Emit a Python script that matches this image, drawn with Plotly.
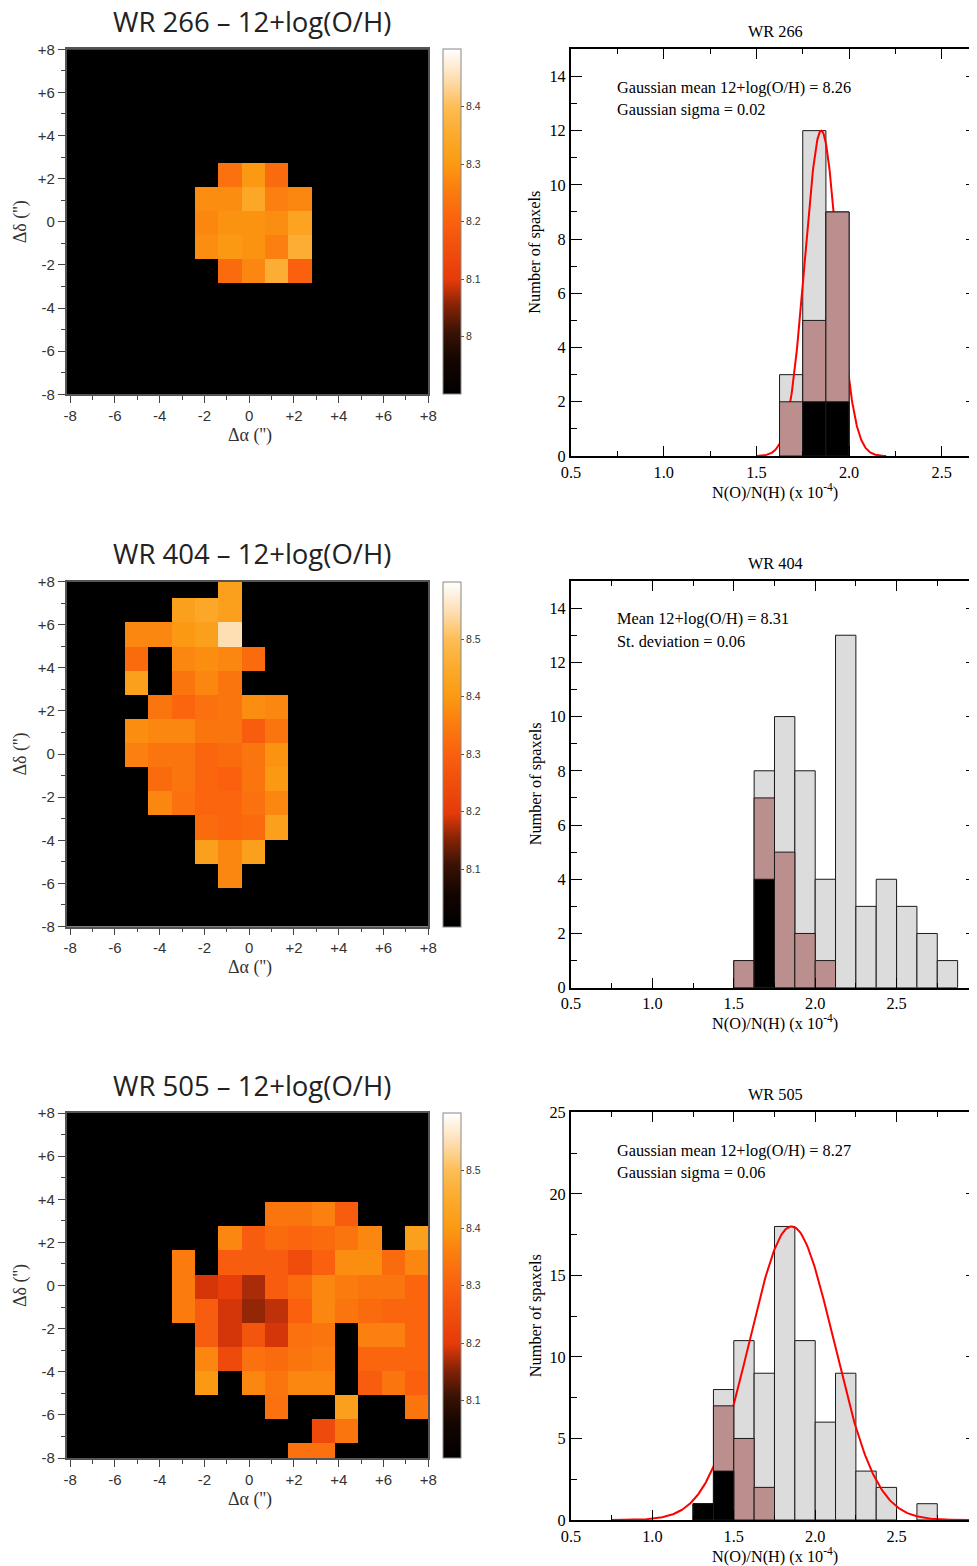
import numpy as np
import plotly.graph_objects as go

# The page body keeps an 8 px margin, so the figure is sized to fill the
# rest of the 977x1566 window and reference pixel positions are shifted.
OFF = 8
W, H = 977 - OFF, 1566 - OFF


def fx(p):
    return (p - OFF) / W


def fy(p):
    return 1 - (p - OFF) / H


SERIF = "Liberation Serif, Times New Roman, serif"
SANS = "Liberation Sans, Arial, sans-serif"
TFONT = "Open Sans, sans-serif"
SZ = 16.3

# ---------------- map data (12+log(O/H) per spaxel) ----------------
NCOL, NROW = 15, 16
COL_LEFT, COL_W = -7.625, 1.043
ROW_TOP, ROW_H = 8.34, 1.12

WR266_ROWS = [5, 6, 7, 8, 9]
WR266_START = [6, 5, 5, 5, 6]
WR266_VALS = [
    [8.23, 8.30, 8.22],
    [8.28, 8.28, 8.34, 8.26, 8.27],
    [8.27, 8.29, 8.29, 8.28, 8.33],
    [8.28, 8.30, 8.29, 8.26, 8.36],
    [8.22, 8.27, 8.36, 8.20],
]

WR404_ROWS = [0, 1, 2, 3, 4, 5, 6, 7, 8, 9, 10, 11, 12]
WR404_START = [6, 4, 2, 2, 2, 3, 2, 2, 3, 3, 5, 5, 6]
WR404_VALS = [
    [8.42],
    [8.42, 8.44, 8.42],
    [8.37, 8.37, 8.40, 8.42, 8.55],
    [8.32, None, 8.37, 8.38, 8.37, 8.32],
    [8.42, None, 8.34, 8.37, 8.34],
    [8.34, 8.31, 8.33, 8.34, 8.38, 8.37],
    [8.38, 8.37, 8.37, 8.34, 8.34, 8.29, 8.34],
    [8.36, 8.34, 8.34, 8.31, 8.32, 8.34, 8.39],
    [8.32, 8.34, 8.31, 8.30, 8.34, 8.40],
    [8.37, 8.33, 8.31, 8.31, 8.33, 8.37],
    [8.32, 8.31, 8.32, 8.42],
    [8.42, 8.37, 8.42],
    [8.37],
]

WR505_ROWS = [4, 5, 6, 7, 8, 9, 10, 11, 12, 13, 14]
WR505_START = [8, 6, 4, 4, 4, 5, 5, 5, 8, 10, 9]
WR505_VALS = [
    [8.34, 8.34, 8.36, 8.29],
    [8.37, 8.29, 8.32, 8.31, 8.32, 8.34, 8.37, None, 8.42],
    [8.35, None, 8.29, 8.29, 8.29, 8.25, 8.30, 8.38, 8.38, 8.32, 8.37],
    [8.35, 8.19, 8.21, 8.17, 8.29, 8.32, 8.37, 8.35, 8.34, 8.34, 8.31],
    [8.35, 8.29, 8.19, 8.16, 8.18, 8.30, 8.37, 8.34, 8.32, 8.31, 8.31],
    [8.29, 8.19, 8.27, 8.19, 8.33, 8.34, None, 8.36, 8.36, 8.31],
    [8.37, 8.24, 8.33, 8.32, 8.34, 8.35, None, 8.31, 8.31, 8.31],
    [8.40, None, 8.37, 8.34, 8.37, 8.37, None, 8.29, 8.34, 8.30],
    [8.33, None, None, 8.42, None, None, 8.34],
    [8.24, 8.34],
    [8.33, 8.33],
]

MAP_TITLES = ["WR 266 \u2013 12+log(O/H)", "WR 404 \u2013 12+log(O/H)", "WR 505 \u2013 12+log(O/H)"]
MAP_ZMIN = [7.9, 8.0, 8.0]
MAP_ZMAX = [8.5, 8.6, 8.6]
CBAR_TICKS = [[8.0, 8.1, 8.2, 8.3, 8.4], [8.1, 8.2, 8.3, 8.4, 8.5], [8.1, 8.2, 8.3, 8.4, 8.5]]
CBAR_TEXT = [["8", "8.1", "8.2", "8.3", "8.4"], ["8.1", "8.2", "8.3", "8.4", "8.5"], ["8.1", "8.2", "8.3", "8.4", "8.5"]]
MAP_TICKVALS = [-8, -6, -4, -2, 0, 2, 4, 6, 8]
MAP_TICKTEXT = ["-8", "-6", "-4", "-2", "0", "+2", "+4", "+6", "+8"]

# ---------------- histogram data ----------------
BIN_W = 0.125
HIST_TITLES = ["WR 266", "WR 404", "WR 505"]
HIST_LEFT = [1.625, 1.5, 1.25]
TOTAL = [
    [3, 12, 9],
    [1, 8, 10, 8, 4, 13, 3, 4, 3, 2, 1],
    [1, 8, 11, 9, 18, 11, 6, 9, 3, 2, 0, 1],
]
BROWN = [
    [2, 5, 9],
    [1, 7, 5, 2, 1, 0, 0, 0, 0, 0, 0],
    [1, 7, 5, 2, 0, 0, 0, 0, 0, 0, 0, 0],
]
BLACK = [
    [0, 2, 2],
    [0, 4, 0, 0, 0, 0, 0, 0, 0, 0, 0],
    [1, 3, 0, 0, 0, 0, 0, 0, 0, 0, 0, 0],
]
HIST_XMAX = [2.69, 2.994, 2.994]
HIST_YMAX = [15, 15, 25]
HIST_YDTICK = [2, 2, 5]
HIST_TEXT1 = ["Gaussian mean 12+log(O/H) = 8.26", "Mean 12+log(O/H) = 8.31", "Gaussian mean 12+log(O/H) = 8.27"]
HIST_TEXT2 = ["Gaussian sigma = 0.02", "St. deviation = 0.06", "Gaussian sigma = 0.06"]

# Gaussian fits (amplitude, centre, sigma, x-extent); None = no fit drawn
GAUSS = [
    (12.0, 1.85, 0.088, 1.5, 2.2),
    None,
    (18.0, 1.855, 0.26, 0.75, 3.0),
]

CSCALE = [
    [0.0, "#000000"],
    [0.1, "#140500"],
    [0.18, "#3a1204"],
    [0.26, "#8a2406"],
    [0.33, "#e63a0a"],
    [0.5, "#fa600e"],
    [0.6, "#fb800f"],
    [0.667, "#fb9a12"],
    [0.75, "#fcaa2c"],
    [0.833, "#fdbd55"],
    [0.92, "#fee0b8"],
    [1.0, "#ffffff"],
]

# ---------------- geometry (reference pixels) ----------------
MAP_L, MAP_R, MAP_H = 66.7, 428.3, 345.0
MAP_TOPS = [49.3, 581.5, 1113.0]
HIST_L = 571.0
HIST_TOPS = [49.3, 581.0, 1112.3]
HIST_BOTS = [456.0, 987.7, 1520.0]


def build_z(rows, starts, vals):
    z = [[None] * NCOL for _ in range(NROW)]
    for r, s, v in zip(rows, starts, vals):
        for j, val in enumerate(v):
            z[r][s + j] = val
    return z[::-1]


xc = [COL_LEFT + COL_W * (c + 0.5) for c in range(NCOL)]
yc = [ROW_TOP - ROW_H * (r + 0.5) for r in range(NROW)][::-1]

ZS = [
    build_z(WR266_ROWS, WR266_START, WR266_VALS),
    build_z(WR404_ROWS, WR404_START, WR404_VALS),
    build_z(WR505_ROWS, WR505_START, WR505_VALS),
]


def ax(n, kind):
    return kind if n == 1 else f"{kind}{n}"


def lay(n, kind):
    return f"{kind}axis" if n == 1 else f"{kind}axis{n}"


def nz(v):
    return [x if x else None for x in v]


fig = go.Figure()
layout = dict(
    width=W, height=H,
    margin=dict(l=0, r=0, t=0, b=0, pad=0, autoexpand=False),
    paper_bgcolor="white", plot_bgcolor="white", showlegend=False,
    barmode="overlay",
)
shapes = []
annotations = []


def ann(text, x, y, size, family, color="black", xanchor="center", angle=0):
    annotations.append(dict(
        text=text, x=fx(x), y=fy(y), xref="paper", yref="paper",
        xanchor=xanchor, yanchor="middle", showarrow=False, textangle=angle,
        font=dict(size=size, family=family, color=color),
    ))


for k in range(3):
    # ---------- map ----------
    n = k + 1
    top = MAP_TOPS[k]
    fig.add_trace(go.Heatmap(
        z=ZS[k], x=xc, y=yc, zmin=MAP_ZMIN[k], zmax=MAP_ZMAX[k],
        colorscale=CSCALE, zsmooth=False, hoverinfo="skip",
        xaxis=ax(n, "x"), yaxis=ax(n, "y"),
        colorbar=dict(
            x=fx(443), xanchor="left", y=fy(top + MAP_H / 2), yanchor="middle",
            len=MAP_H, lenmode="pixels", thickness=18, thicknessmode="pixels",
            outlinewidth=1, outlinecolor="#888", xpad=0, ypad=0,
            tickvals=CBAR_TICKS[k], ticktext=CBAR_TEXT[k], ticks="outside",
            ticklen=3, tickcolor="#555",
            tickfont=dict(size=10.5, color="#333", family=SANS),
        ),
    ))
    common_map = dict(
        tickvals=MAP_TICKVALS, ticktext=MAP_TICKTEXT, ticks="outside", ticklen=7,
        tickcolor="#444", tickwidth=1,
        minor=dict(dtick=1, tick0=0, ticks="outside", ticklen=4, tickcolor="#444"),
        showline=True, linecolor="#555", linewidth=1.5, mirror=True,
        showgrid=False, zeroline=False,
        tickfont=dict(size=15, family=SANS, color="#333"),
    )
    layout[lay(n, "x")] = dict(
        domain=[fx(MAP_L), fx(MAP_R)], range=[-8.15, 8.0], anchor=ax(n, "y"), **common_map)
    layout[lay(n, "y")] = dict(
        domain=[fy(top + MAP_H), fy(top)], range=[-8, 8], anchor=ax(n, "x"), **common_map)
    shapes.append(dict(
        type="rect", xref=f"{ax(n, 'x')} domain", yref=f"{ax(n, 'y')} domain",
        x0=0, x1=1, y0=0, y1=1, fillcolor="black", line=dict(width=0), layer="below"))
    ann(MAP_TITLES[k], 252, top - 28, 27.5, TFONT, color="#222")
    ann("\u0394\u03b1 ('')", 250, top + 386, 18, SERIF, color="#333")
    ann("\u0394\u03b4 ('')", 20, top + 173, 18, SERIF, color="#333", angle=-90)

    # ---------- histogram ----------
    nb = k + 4
    no = k + 7
    htop, hbot = HIST_TOPS[k], HIST_BOTS[k]
    centers = [HIST_LEFT[k] + BIN_W * (i + 0.5) for i in range(len(TOTAL[k]))]
    line = dict(color="#1a1a1a", width=1)
    fig.add_trace(go.Bar(
        x=centers, y=nz(TOTAL[k]), width=BIN_W, marker=dict(color="#dcdcdc", line=line),
        xaxis=ax(nb, "x"), yaxis=ax(nb, "y"), hoverinfo="skip"))
    if GAUSS[k] is not None:
        amp, mu, sig, g0, g1 = GAUSS[k]
        gx = np.linspace(g0, g1, 300)
        gy = amp * np.exp(-(gx - mu) ** 2 / (2 * sig ** 2))
        fig.add_trace(go.Scatter(
            x=gx, y=gy, mode="lines", line=dict(color="#ff0000", width=2),
            xaxis=ax(nb, "x"), yaxis=ax(nb, "y"), hoverinfo="skip"))
    fig.add_trace(go.Bar(
        x=centers, y=nz(BROWN[k]), width=BIN_W, marker=dict(color="#bc8f8f", line=line),
        xaxis=ax(no, "x"), yaxis=ax(no, "y"), hoverinfo="skip"))
    fig.add_trace(go.Bar(
        x=centers, y=nz(BLACK[k]), width=BIN_W, marker=dict(color="#000000", line=line),
        xaxis=ax(no, "x"), yaxis=ax(no, "y"), hoverinfo="skip"))

    xr = [0.5, HIST_XMAX[k]]
    yr = [0, HIST_YMAX[k]]
    xdom = [fx(HIST_L), 1.0]
    ydom = [fy(hbot), fy(htop)]
    layout[lay(nb, "x")] = dict(
        domain=xdom, range=xr, anchor=ax(nb, "y"), tick0=0.5, dtick=0.5, tickformat=".1f",
        ticks="inside", ticklen=10, tickwidth=1.3, tickcolor="black",
        minor=dict(dtick=0.25, tick0=0.5, ticks="inside", ticklen=5, tickwidth=1.3, tickcolor="black"),
        showline=True, linecolor="black", linewidth=2, mirror="ticks",
        showgrid=False, zeroline=False, tickfont=dict(size=SZ, family=SERIF, color="black"))
    layout[lay(nb, "y")] = dict(
        domain=ydom, range=yr, anchor=ax(nb, "x"), tick0=0, dtick=HIST_YDTICK[k],
        ticks="inside", ticklen=11, tickwidth=1.3, tickcolor="black",
        minor=dict(dtick=HIST_YDTICK[k] / 2, tick0=0, ticks="inside", ticklen=6, tickwidth=1.3, tickcolor="black"),
        showline=True, linecolor="black", linewidth=2, mirror="ticks",
        showgrid=False, zeroline=False, tickfont=dict(size=SZ, family=SERIF, color="black"))
    layout[lay(no, "x")] = dict(
        domain=xdom, range=xr, anchor=ax(no, "y"), overlaying=ax(nb, "x"), visible=False)
    layout[lay(no, "y")] = dict(
        domain=ydom, range=yr, anchor=ax(no, "x"), overlaying=ax(nb, "y"), visible=False)

    ann(HIST_TITLES[k], 775, htop - 18, SZ, SERIF)
    ann(HIST_TEXT1[k], 615, htop + 38, SZ, SERIF, xanchor="left")
    ann(HIST_TEXT2[k], 615, htop + 60, SZ, SERIF, xanchor="left")
    ann("Number of spaxels", 535, (htop + hbot) / 2, SZ, SERIF, angle=-90)
    ann("N(O)/N(H) (x 10<sup>-4</sup>)", 775, hbot + 35, SZ, SERIF)

layout["shapes"] = shapes
layout["annotations"] = annotations
fig.update_layout(**layout)
fig.write_html("out.html")
